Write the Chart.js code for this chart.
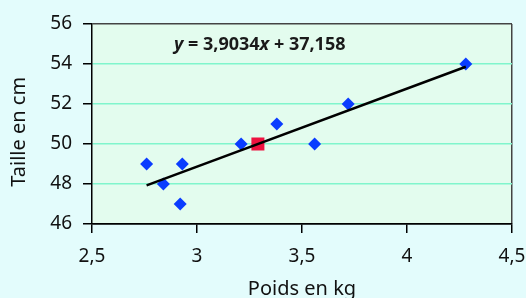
<!DOCTYPE html>
<html><head><meta charset="utf-8">
<script src="https://cdn.jsdelivr.net/npm/chart.js@4/dist/chart.umd.min.js"></script>
<style>html,body{margin:0;padding:0;background:#e3fcfc;}#wrap{width:526px;height:298px;}</style>
</head><body><div id="wrap"><canvas id="c" width="526" height="298"></canvas></div>
<script>
// Données
const poids = [2.76, 2.84, 2.93, 2.92, 3.21, 3.38, 3.56, 3.72, 4.28];
const taille = [49, 48, 49, 47, 50, 51, 50, 52, 54];
const moyennePoids = [3.29];
const moyenneTaille = [50];
const pente = 3.9034;
const ordonnee = 37.158;
const droiteX = [2.76, 4.28];
const xTicks = [2.5, 3, 3.5, 4, 4.5];
const yTicks = [46, 48, 50, 52, 54, 56];
const titreX = 'Poids en kg';
const titreY = 'Taille en cm';

const FONT = "'Noto Sans', sans-serif";

const bgPlugin = {
  id: 'bg',
  beforeDraw(chart) {
    const {ctx, chartArea: a} = chart;
    ctx.save();
    ctx.fillStyle = '#e3fcee';
    ctx.fillRect(a.left, a.top, a.right - a.left, a.bottom - a.top);
    ctx.restore();
  }
};
const eqPlugin = {
  id: 'eq',
  afterDraw(chart) {
    const ctx = chart.ctx;
    const parts = [
      ['y', 'italic bold 18px ' + FONT],
      [' = 3,9034', 'bold 18px ' + FONT],
      ['x', 'italic bold 18px ' + FONT],
      [' + 37,158', 'bold 18px ' + FONT]
    ];
    ctx.save();
    ctx.fillStyle = '#1a1a1a';
    ctx.textBaseline = 'middle';
    ctx.textAlign = 'left';
    let x = 174;
    for (const [t, f] of parts) {
      ctx.font = f;
      ctx.fillText(t, x, 45);
      x += ctx.measureText(t).width;
    }
    ctx.restore();
  }
};

new Chart(document.getElementById('c'), {
  type: 'scatter',
  data: {
    datasets: [
      {
        type: 'line',
        data: droiteX.map(x => ({x, y: pente * x + ordonnee})),
        borderColor: '#000', borderWidth: 2.5, pointRadius: 0, fill: false, order: 0
      },
      {
        data: moyennePoids.map((x, i) => ({x, y: moyenneTaille[i]})),
        pointStyle: 'rect', pointRadius: 9.2, backgroundColor: '#ee1240', borderWidth: 0, order: 1
      },
      {
        data: poids.map((x, i) => ({x, y: taille[i]})),
        pointStyle: 'rectRot', pointRadius: 6.5, backgroundColor: '#0a3cff', borderWidth: 0, order: 2
      }
    ]
  },
  options: {
    responsive: false, animation: false, devicePixelRatio: 1,
    layout: {padding: {left: 0, right: 14, top: 24, bottom: 0}},
    plugins: {legend: {display: false}, tooltip: {enabled: false}},
    scales: {
      x: {
        type: 'linear', min: 2.5, max: 4.5,
        afterBuildTicks: s => { s.ticks = xTicks.map(v => ({value: v})); },
        afterFit: s => { s.height = 74; s.paddingLeft = 0; s.paddingRight = 0; },
        ticks: {
          color: '#111', font: {family: FONT, size: 19}, padding: 12,
          callback: v => String(v).replace('.', ',')
        },
        grid: {
          color: c => (c.tick && c.tick.value === 4.5) ? '#444' : 'rgba(0,0,0,0)',
          tickColor: '#000', tickLength: 9, lineWidth: 1.5
        },
        border: {color: '#000', width: 1.5},
        title: {display: true, text: titreX, color: '#111', font: {family: FONT, size: 20, lineHeight: 0.9}, padding: {top: 0, bottom: 0}}
      },
      y: {
        min: 46, max: 56,
        afterBuildTicks: s => { s.ticks = yTicks.map(v => ({value: v})); },
        afterFit: s => { s.width = 92; s.paddingTop = 0; s.paddingBottom = 0; },
        ticks: {color: '#111', font: {family: FONT, size: 19}, padding: 11},
        grid: {
          color: c => { const v = c.tick && c.tick.value; return v === 56 ? '#444' : v === 46 ? '#000' : '#80f5cc'; },
          tickColor: '#000', tickLength: 9, lineWidth: 1.5
        },
        border: {color: '#000', width: 1.5},
        title: {display: true, text: titreY + '\u00A0\u00A0\u00A0', color: '#111', font: {family: FONT, size: 20}, padding: {top: 7, bottom: 0}}
      }
    }
  },
  plugins: [bgPlugin, eqPlugin]
});
</script>
</body></html>
